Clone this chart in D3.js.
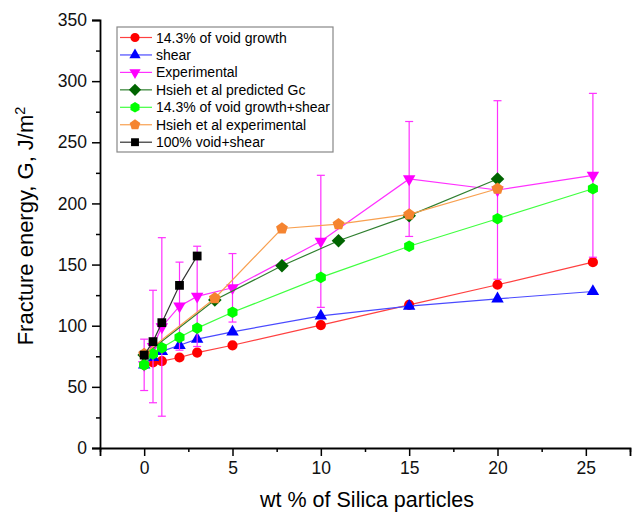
<!DOCTYPE html>
<html>
<head>
<meta charset="utf-8">
<script src="https://cdn.jsdelivr.net/npm/d3@7"></script>
<style>
body { margin:0; background:#fff; }
text { font-family: "Liberation Sans", Arial, sans-serif; }
</style>
</head>
<body>
<div id="chart"></div>
<script>
(function(){

// data
var x_main  = [0, 0.5, 1, 2, 3, 5, 10, 15, 20, 25.4]
var void_growth = [68, 70, 71, 74, 78, 84, 100.5, 117, 133.5, 152]
var shear       = [68, 74, 79, 84, 89, 95, 108, 116, 122, 128]
var experimental     = [68, 83, 99, 116, 124, 131, 169, 220, 211, 223]
var experimental_err = [21, 46, 73, 36, 41, 28, 54, 47, 73, 67]
var void_shear  = [68, 77, 82, 90.5, 98, 111, 139.5, 165, 187.5, 212]
var x_hsieh = [0, 4, 7.8, 11, 15, 20]
var hsieh_pred = [76, 121, 149, 169.5, 190, 220]
var hsieh_exp  = [77, 122.5, 179.5, 183, 191, 212]
var x_full = [0, 0.5, 1, 2, 3]
var full_void_shear = [76, 87, 102.5, 133, 157]

var x_ticks = [0, 5, 10, 15, 20, 25]
var y_ticks = [0, 50, 100, 150, 200, 250, 300, 350]

var series = [
	{name:"14.3% of void growth", x:x_main, y:void_growth, color:"#ff0000", line:"#ff4040", shape:"circle"},
	{name:"shear", x:x_main, y:shear, color:"#0000ff", line:"#4a4aff", shape:"triangle"},
	{name:"Experimental", x:x_main, y:experimental, err:experimental_err, color:"#ff00ff", line:"#ff30ff", shape:"down"},
	{name:"Hsieh et al predicted Gc", x:x_hsieh, y:hsieh_pred, color:"#006400", line:"#2f7f2f", shape:"diamond"},
	{name:"14.3% of void growth+shear", x:x_main, y:void_shear, color:"#00ff00", line:"#40ff40", shape:"hexagon"},
	{name:"Hsieh et al experimental", x:x_hsieh, y:hsieh_exp, color:"#f58430", line:"#f8a050", shape:"pentagon"},
	{name:"100% void+shear", x:x_full, y:full_void_shear, color:"#000000", line:"#333333", shape:"square"}
]

var W = 637, H = 514
var margin = {top: 20, right: 7, bottom: 66, left: 100},
	width = W - margin.left - margin.right,
	height = H - margin.top - margin.bottom;

var svg = d3.select("#chart").append("svg")
	.attr("width", W)
	.attr("height", H)

var plot = svg.append("g")
	.attr("transform","translate(" + margin.left + "," + margin.top + ")");

var x = d3.scaleLinear().domain([-2.5, 27.5]).range([0, width]);
var y = d3.scaleLinear().domain([0, 350]).range([height, 0]);

function polygon(n, r, rot){
	var pts = d3.range(n).map(function(i){
		var a = rot + i*2*Math.PI/n
		return [r*Math.sin(a), -r*Math.cos(a)]
	})
	return "M" + pts.join("L") + "Z"
}
function marker(shape){
	if (shape=="circle") return d3.symbol().type(d3.symbolCircle).size(Math.PI*26)()
	if (shape=="triangle") return polygon(3, 7.2, 0)
	if (shape=="down") return polygon(3, 7.2, Math.PI)
	if (shape=="diamond") return polygon(4, 6.8, 0)
	if (shape=="hexagon") return polygon(6, 5.8, 0)
	if (shape=="pentagon") return polygon(5, 6.2, 0)
	if (shape=="square") return polygon(4, 6.2, Math.PI/4)
}

// axes
var xAxis = plot.append("g")
	.attr("transform","translate(0," + height + ")")
	.call(d3.axisBottom(x).tickValues(x_ticks).tickSize(8).tickPadding(6).tickFormat(d3.format("d")))
xAxis.append("g").call(d3.axisBottom(x).tickValues(d3.range(-2.5, 28, 5)).tickSize(4).tickFormat(""))
	.select(".domain").remove()

var yAxis = plot.append("g")
	.call(d3.axisLeft(y).tickValues(y_ticks).tickSize(8).tickPadding(5))
yAxis.append("g").call(d3.axisLeft(y).tickValues(d3.range(25, 350, 50)).tickSize(4).tickFormat(""))
	.select(".domain").remove()

plot.selectAll(".domain").attr("stroke","#000").attr("stroke-width",1.8)
plot.selectAll(".tick line").attr("stroke","#000").attr("stroke-width",1.5)
plot.selectAll(".tick text")
	.style("font-size","17.5px")
	.style("font-family","'Liberation Sans', Arial, sans-serif")
	.attr("fill","#111")

svg.append("text")
	.attr("x", 367).attr("y", 507)
	.style("text-anchor","middle")
	.style("font-size","21.5px")
	.text("wt % of Silica particles")

var ytitle = svg.append("text")
	.attr("transform","translate(33," + 226 + ") rotate(-90)")
	.style("text-anchor","middle")
	.style("font-size","22px")
ytitle.append("tspan").text("Fracture energy, G, J/m")
ytitle.append("tspan").attr("dy",-8).style("font-size","14.5px").text("2")

// series
var lineGen = d3.line()

series.forEach(function(s){
	var g = plot.append("g").attr("class","series")
	var pts = s.x.map(function(d,i){ return [x(d), y(s.y[i])] })
	g.append("path")
		.attr("d", lineGen(pts))
		.attr("fill","none")
		.attr("stroke", s.line)
		.attr("stroke-width", 1.2)
	if (s.err) {
		var eb = g.selectAll(".err").data(s.x).enter().append("g")
		eb.append("line")
			.attr("x1", function(d){return x(d)}).attr("x2", function(d){return x(d)})
			.attr("y1", function(d,i){return y(s.y[i]-s.err[i])})
			.attr("y2", function(d,i){return y(s.y[i]+s.err[i])})
			.attr("stroke", s.line).attr("stroke-width",1.2)
		;[-1,1].forEach(function(sg){
			eb.append("line")
				.attr("x1", function(d){return x(d)-4}).attr("x2", function(d){return x(d)+4})
				.attr("y1", function(d,i){return y(s.y[i]+sg*s.err[i])})
				.attr("y2", function(d,i){return y(s.y[i]+sg*s.err[i])})
				.attr("stroke", s.line).attr("stroke-width",1.2)
		})
	}
	g.selectAll(".pt").data(pts).enter().append("path")
		.attr("d", marker(s.shape))
		.attr("transform", function(d){return "translate(" + d[0] + "," + d[1] + ")"})
		.attr("fill", s.color)
})

// legend
var leg = svg.append("g").attr("transform","translate(117,27)")
leg.append("rect")
	.attr("width",216).attr("height",125)
	.attr("fill","#fff").attr("stroke","#888").attr("stroke-width",1.2)

var item = leg.selectAll(".legend").data(series).enter().append("g")
	.attr("class","legend")
	.attr("transform", function(d,i){ return "translate(0," + (10.5 + i*17.45) + ")" })
item.append("line").attr("x1",3).attr("x2",35)
	.attr("stroke", function(d){return d.line}).attr("stroke-width",1.2)
item.append("path")
	.attr("d", function(d){return marker(d.shape)})
	.attr("transform","translate(18,0) scale(0.9)")
	.attr("fill", function(d){return d.color})
item.append("text").attr("x",39).attr("y",5)
	.style("font-size","14px")
	.text(function(d){return d.name})

})()
</script>
</body>
</html>
